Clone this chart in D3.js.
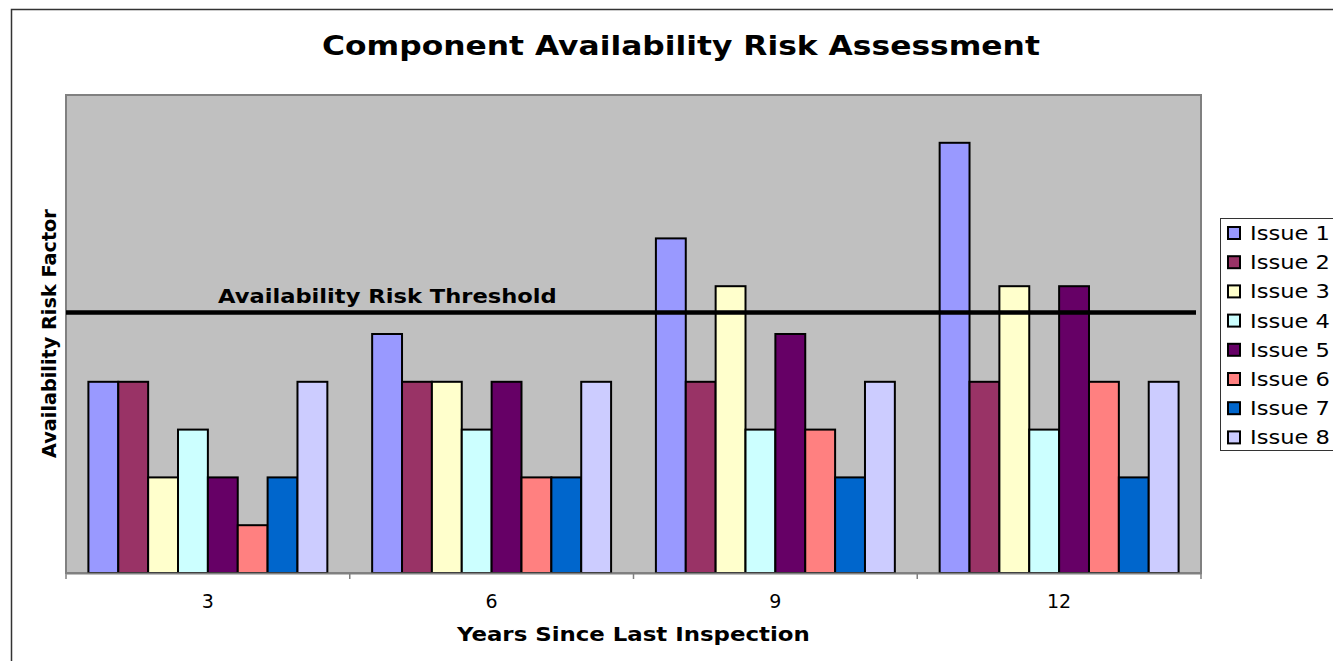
<!DOCTYPE html>
<html><head><meta charset="utf-8">
<script src="https://cdn.jsdelivr.net/npm/d3@7"></script>
<style>body{margin:0;background:#fff;}svg{display:block;font-family:"DejaVu Sans",Verdana,sans-serif;}</style>
</head><body>
<script>
const categories = ["3","6","9","12"];
const seriesNames = ["Issue 1","Issue 2","Issue 3","Issue 4","Issue 5","Issue 6","Issue 7","Issue 8"];
const issue1 = [4,5,7,9];
const issue2 = [4,4,4,4];
const issue3 = [2,4,6,6];
const issue4 = [3,3,3,3];
const issue5 = [2,4,5,6];
const issue6 = [1,2,3,4];
const issue7 = [2,2,2,2];
const issue8 = [4,4,4,4];
const seriesValues = [issue1,issue2,issue3,issue4,issue5,issue6,issue7,issue8];
const colors = ["#9999FF","#993366","#FFFFCC","#CCFFFF","#660066","#FF8080","#0066CC","#CCCCFF"];
const threshold = 5.45;
const yMax = 10;

const W=1333,H=661;
const svg=d3.select("body").append("svg").attr("width",W).attr("height",H);
const m={l:66,t:95,r:1201,b:573};

// text of a given width, drawn with horizontal stretch (Verdana-like wide glyphs)
function wideText(parent,x,y,str,size,bold,targetW,rotate){
  const gg=parent.append("g").attr("transform",`translate(${x},${y})`+(rotate?` rotate(${rotate})`:""));
  const t=gg.append("text").attr("x",0).attr("y",0).attr("font-size",size)
    .attr("font-weight",bold?"bold":"normal").text(str);
  const len=t.node().getComputedTextLength();
  t.attr("transform",`scale(${targetW/len},1)`);
  return t;
}

// outer border
svg.append("rect").attr("x",11.5).attr("y",9.5).attr("width",1340).attr("height",680)
  .attr("fill","#fff").attr("stroke","#333").attr("stroke-width",1.5);

const x0=d3.scaleBand().domain(categories).range([m.l,m.r]).paddingInner(0).paddingOuter(0);
// Excel gap width 150%: 9.5 bar widths per group, 0.75 bar padding each side
const x1=d3.scaleBand().domain(seriesNames).range([0,x0.bandwidth()]).paddingInner(0).paddingOuter(0.75);
const y=d3.scaleLinear().domain([0,yMax]).range([m.b,m.t]);

svg.append("rect").attr("x",m.l).attr("y",m.t).attr("width",m.r-m.l).attr("height",m.b-m.t)
  .attr("fill","#C0C0C0").attr("stroke","#808080").attr("stroke-width",2);

const g=svg.append("g");
categories.forEach((c,ci)=>{
  seriesNames.forEach((s,si)=>{
    const v=seriesValues[si][ci];
    g.append("rect").attr("x",x0(c)+x1(s)).attr("y",y(v)).attr("width",x1.bandwidth())
      .attr("height",y(0)-y(v)).attr("fill",colors[si]).attr("stroke","#000").attr("stroke-width",2);
  });
});

// x axis
const xAxis=d3.axisBottom(x0).tickSize(0).tickPadding(22);
const ax=svg.append("g").attr("transform",`translate(0,${m.b})`).call(xAxis);
ax.select(".domain").attr("stroke","#808080").attr("stroke-width",2);
ax.selectAll("text").attr("font-size",19).attr("fill","#000").attr("font-family","DejaVu Sans");
const tickPos=categories.map(c=>x0(c)).concat([m.r]);
svg.selectAll(".tk").data(tickPos).enter().append("line")
  .attr("x1",d=>d).attr("x2",d=>d).attr("y1",m.b).attr("y2",m.b+6).attr("stroke","#808080").attr("stroke-width",1.5);

// threshold
svg.append("line").attr("x1",m.l).attr("x2",1196).attr("y1",y(threshold)).attr("y2",y(threshold))
  .attr("stroke","#000").attr("stroke-width",4.5);
wideText(svg,218,303,"Availability Risk Threshold",19,true,339);

// titles
wideText(svg,322,55,"Component Availability Risk Assessment",27,true,718);
wideText(svg,457,641,"Years Since Last Inspection",20,true,353);
wideText(svg,56,458,"Availability Risk Factor",19,true,249,-90);

// legend
const lg=svg.append("g");
lg.append("rect").attr("x",1220.5).attr("y",218.5).attr("width",130).attr("height",232)
  .attr("fill","#fff").attr("stroke","#333").attr("stroke-width",1);
seriesNames.forEach((s,i)=>{
  const cy=233+i*29.2;
  lg.append("rect").attr("x",1228).attr("y",cy-6).attr("width",12).attr("height",12)
    .attr("fill",colors[i]).attr("stroke","#000").attr("stroke-width",2);
  wideText(lg,1250,cy+7,s,19,false,80);
});
</script>
</body></html>
